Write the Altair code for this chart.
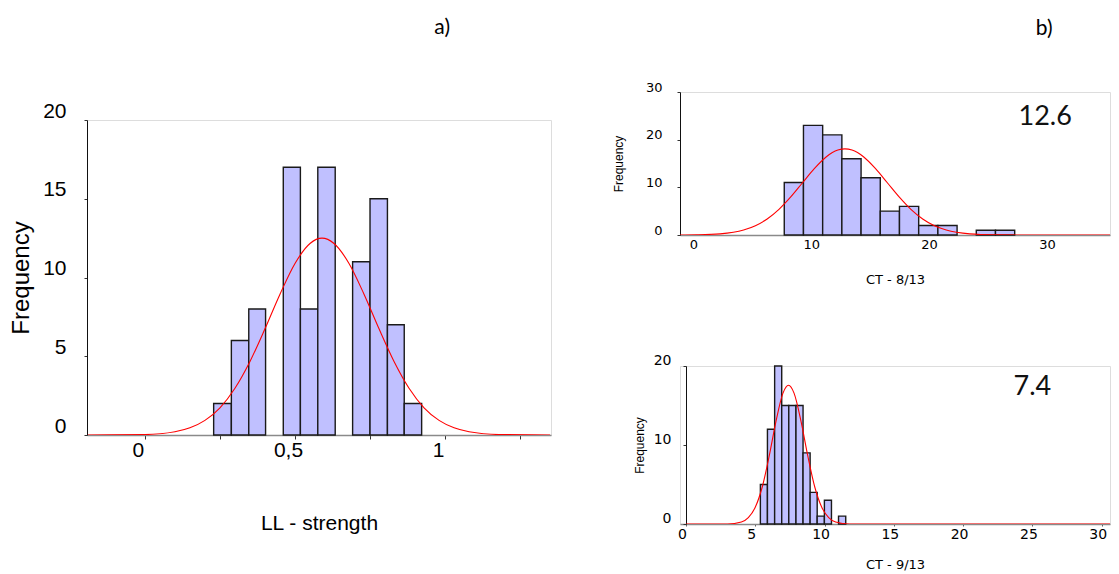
import altair as alt
import pandas as pd

# ---------------- Panel a: LL - strength ----------------
a_edges = [0.229, 0.288, 0.346, 0.402, 0.461, 0.518, 0.576, 0.634, 0.692, 0.750, 0.808, 0.864, 0.922]
a_counts = [2, 6, 8, 0, 17, 8, 17, 0, 11, 15, 7, 2]
a_curve_x = [-0.19, 0.0, 0.1, 0.15, 0.2, 0.25, 0.3, 0.35, 0.4, 0.45, 0.5, 0.55, 0.59,
             0.63, 0.68, 0.73, 0.78, 0.83, 0.88, 0.93, 0.98, 1.03, 1.08, 1.18, 1.35]
a_curve_y = [0, 0.03, 0.21, 0.46, 0.93, 1.73, 2.97, 4.67, 6.74, 8.94, 10.89, 12.16, 12.5,
             12.16, 10.89, 8.94, 6.74, 4.67, 2.97, 1.73, 0.93, 0.46, 0.21, 0.03, 0]

# ---------------- Panel b (top): CT - 8/13 ----------------
b1_edges = [7.45, 9.08, 10.71, 12.34, 13.97, 15.6, 17.23, 18.86, 20.49, 22.12, 23.75, 25.38, 27.01]
b1_counts = [11, 23, 21, 16, 12, 5, 6, 2, 2, 0, 1, 1]
b1_curve_x = [-1.4, 0, 2, 4, 5, 6, 7, 8, 9, 10, 11, 12, 12.6, 13.2, 14.2, 15.2, 16.2,
              17.2, 18.2, 19.2, 20.2, 21.2, 23.2, 25.2, 28, 36]
b1_curve_y = [0, 0.04, 0.24, 1.04, 1.95, 3.37, 5.39, 7.99, 10.96, 13.92, 16.37, 17.82, 18.07,
              17.82, 16.37, 13.92, 10.96, 7.99, 5.39, 3.37, 1.95, 1.04, 0.24, 0.04, 0, 0]
b1_note = ["12.6"]

# ---------------- Panel b (bottom): CT - 9/13 ----------------
b2_edges = [5.37, 5.88, 6.40, 6.91, 7.42, 7.94, 8.45, 8.96, 9.47, 9.99, 10.50, 11.01, 11.53]
b2_counts = [5, 12, 20, 15, 15, 15, 9, 4, 1, 3, 0, 1]
b2_curve_x = [0, 3, 4, 4.5, 5, 5.5, 6, 6.5, 7, 7.4, 7.8, 8.3, 8.8, 9.3, 9.8, 10.3, 10.8, 11.8, 31.1]
b2_curve_y = [0, 0, 0.25, 0.8, 2.11, 4.65, 8.55, 13.03, 16.56, 17.56, 16.56, 13.03, 8.55,
              4.65, 2.11, 0.8, 0.25, 0, 0]
b2_note = ["7.4"]

ARIAL = "Liberation Sans, Arial, sans-serif"
WIDE = "DejaVu Sans"
CAL = "Lato, Open Sans, sans-serif"
BAR_FILL = "#c0c0ff"
BAR_STROKE = "#1a1a1a"


def bars_df(edges, counts):
    rows = []
    for i, c in enumerate(counts):
        if c > 0:
            rows.append({"x0": edges[i], "x1": edges[i + 1], "n": c, "z": 0})
    return pd.DataFrame(rows)


def panel(edges, counts, cx, cy, xdom, ydom, w, h, xaxis, yaxis, note=None, note_xy=None):
    xs = alt.Scale(domain=xdom, nice=False, zero=False)
    ys = alt.Scale(domain=ydom, nice=False)
    bars = alt.Chart(bars_df(edges, counts)).mark_rect(
        fill=BAR_FILL, stroke=BAR_STROKE, strokeWidth=1.4
    ).encode(
        x=alt.X("x0:Q", scale=xs, axis=xaxis),
        x2="x1:Q",
        y=alt.Y("n:Q", scale=ys, axis=yaxis),
        y2="z:Q",
    )
    curve = alt.Chart(pd.DataFrame({"cx": cx, "cy": cy})).mark_line(
        color="#ff0000", strokeWidth=1.1, interpolate="monotone", clip=True
    ).encode(x=alt.X("cx:Q", scale=xs), y=alt.Y("cy:Q", scale=ys))
    layers = [bars, curve]
    if note is not None:
        t = alt.Chart(pd.DataFrame({"tx": [note_xy[0]], "ty": [note_xy[1]], "s": note})).mark_text(
            font=CAL, fontSize=27, color="#111", align="center", baseline="middle"
        ).encode(x=alt.X("tx:Q", scale=xs), y=alt.Y("ty:Q", scale=ys), text="s:N")
        layers.append(t)
    return alt.layer(*layers).properties(width=w, height=h)


# Panel a axes
a_xaxis = alt.Axis(
    values=[0, 0.25, 0.5, 0.75, 1.0, 1.25],
    labelExpr="datum.value == 0 ? '0' : datum.value == 0.5 ? '0,5' : datum.value == 1 ? '1' : ''",
    labelFont=ARIAL, labelFontSize=21, labelColor="#000", labelOffset=-7, labelPadding=0,
    tickSize=4, tickColor="#333", domainColor="#8a8a8a", domainWidth=1.5, grid=False,
    title="LL - strength", titleFont=ARIAL, titleFontSize=21, titleFontWeight="normal",
    titleColor="#000", titlePadding=52,
)
a_yaxis = alt.Axis(
    values=[0, 2.5, 5, 7.5, 10, 12.5, 15, 17.5, 20],
    labelExpr="datum.value % 5 == 0 ? datum.label : ''",
    labelFont=ARIAL, labelFontSize=21, labelColor="#000", labelOffset=-9, labelPadding=18,
    tickSize=3, tickColor="#333", domainColor="#111", grid=False,
    title="Frequency", titleFont=ARIAL, titleFontSize=24, titleFontWeight="normal",
    titleColor="#000", titlePadding=9,
)
chart_a = panel(a_edges, a_counts, a_curve_x, a_curve_y, [-0.193, 1.353], [0, 20], 464, 315,
                a_xaxis, a_yaxis)

spacer_a = alt.Chart(pd.DataFrame({"s": [""]})).mark_text().encode(text="s:N").properties(
    width=464, height=3,
    title=alt.TitleParams("a)", anchor="end", font=CAL, fontSize=21, fontWeight="normal",
                          color="#000", dx=-101, offset=50)
)
left = alt.vconcat(spacer_a, chart_a, spacing=0)

# Panel b top axes
b1_xaxis = alt.Axis(
    values=[0, 10, 20, 30], labelFont=WIDE, labelFontSize=13, labelColor="#000",
    labelOffset=-3, labelPadding=3, tickSize=0, domainColor="#8a8a8a", domainWidth=1.5,
    grid=False, title="CT - 8/13", titleFont=WIDE, titleFontSize=13, titleFontWeight="normal",
    titleColor="#000", titlePadding=22,
)
b1_yaxis = alt.Axis(
    values=[0, 5, 10, 15, 20, 25, 30], labelExpr="datum.value % 10 == 0 ? datum.label : ''",
    labelFont=WIDE, labelFontSize=13, labelColor="#000", labelOffset=-5, labelPadding=15,
    tickSize=3, tickColor="#333", domainColor="#111", grid=False,
    title="Frequency", titleFont=ARIAL, titleFontSize=12, titleFontWeight="normal",
    titleColor="#000", titlePadding=20,
)
chart_b1 = panel(b1_edges, b1_counts, b1_curve_x, b1_curve_y, [-1.4, 35.1], [0, 30], 430, 143,
                 b1_xaxis, b1_yaxis, note=b1_note, note_xy=(29.6, 24.8))

# Panel b bottom axes
b2_xaxis = alt.Axis(
    values=[0, 2.5, 5, 7.5, 10, 12.5, 15, 17.5, 20, 22.5, 25, 27.5, 30],
    labelExpr="datum.value % 5 == 0 ? datum.label : ''",
    labelFont=WIDE, labelFontSize=14, labelColor="#000", labelOffset=-4, labelPadding=1,
    tickSize=2, tickColor="#555", domainColor="#8a8a8a", domainWidth=1.5, grid=False,
    title="CT - 9/13", titleFont=WIDE, titleFontSize=13, titleFontWeight="normal",
    titleColor="#000", titlePadding=17,
)
b2_yaxis = alt.Axis(
    values=[0, 2.5, 5, 7.5, 10, 12.5, 15, 17.5, 20],
    labelExpr="datum.value % 5 == 0 ? datum.label : ''",
    labelFont=WIDE, labelFontSize=14, labelColor="#000", labelOffset=-6, labelPadding=12,
    tickSize=3, tickColor="#333", domainColor="#111", grid=False, offset=-6,
    title="Frequency", titleFont=ARIAL, titleFontSize=12, titleFontWeight="normal",
    titleColor="#000", titlePadding=7,
)
chart_b2 = panel(b2_edges, b2_counts, b2_curve_x, b2_curve_y, [-0.43, 30.6], [0, 20], 430, 158,
                 b2_xaxis, b2_yaxis, note=b2_note, note_xy=(25.0, 17.4))

right = alt.vconcat(chart_b1, chart_b2, spacing=65).properties(
    title=alt.TitleParams("b)", anchor="end", font=CAL, fontSize=21, fontWeight="normal",
                          color="#000", dx=-58, offset=42)
)

chart = alt.hconcat(left, right, spacing=59).properties(
    padding={"left": 1, "top": 8, "right": 0, "bottom": 0}
).configure_view(stroke=None).configure(background="white")

chart.save("out.html", embed_options={"renderer": "svg", "actions": False})
